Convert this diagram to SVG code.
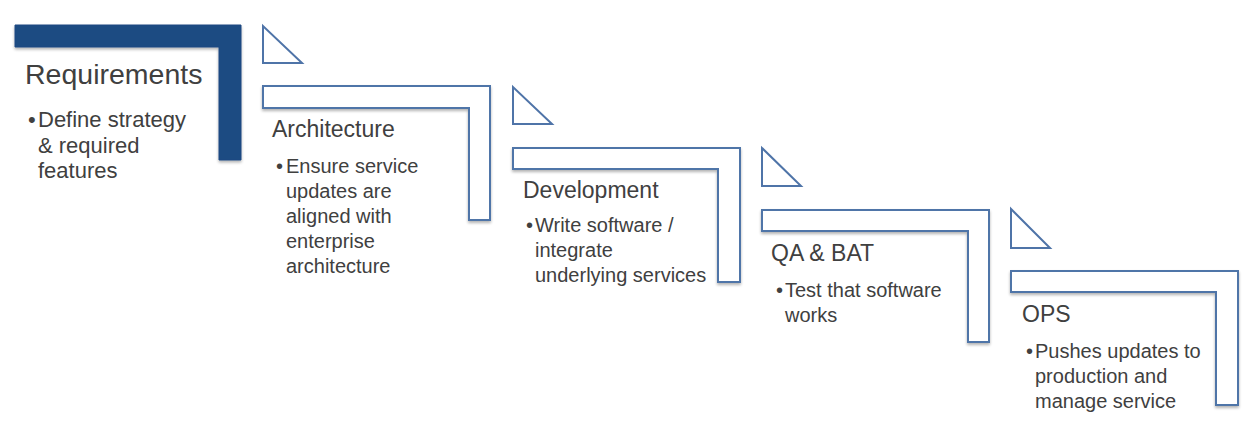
<svg xmlns="http://www.w3.org/2000/svg" width="1260" height="431" viewBox="0 0 1260 431">
  <defs>
    <filter id="sh" x="-5%" y="-5%" width="110%" height="115%">
      <feGaussianBlur in="SourceAlpha" stdDeviation="1.5"/>
      <feOffset dx="0" dy="2" result="b"/>
      <feComponentTransfer><feFuncA type="linear" slope="0.3"/></feComponentTransfer>
      <feMerge><feMergeNode/><feMergeNode in="SourceGraphic"/></feMerge>
    </filter>
  </defs>
  <style>
    .step{fill:#ffffff;stroke:#4f74a8;stroke-width:2;stroke-linejoin:miter}
    .solid{fill:#1f4b82;stroke:#1f4b82;stroke-width:1}
    .tri{fill:#ffffff;stroke:#4f74a8;stroke-width:2;stroke-linejoin:miter}
    text{font-family:"Liberation Sans",Arial,sans-serif;fill:#404040}
    .t{font-size:23px}
    .t0{font-size:28.5px}
    .b{font-size:20px}
    .b0{font-size:22px}
  </style>
  <rect width="1260" height="431" fill="#ffffff"/>

  <g id="connectors">
    <polygon class="tri" points="263,26 263,63 302,63"/>
    <polygon class="tri" points="513,87 513,124 552,124"/>
    <polygon class="tri" points="762,148 762,186 801,186"/>
    <polygon class="tri" points="1011,209 1011,248 1050,248"/>
  </g>

  <g id="requirements">
    <polygon class="solid" filter="url(#sh)" points="15,25 241,25 241,160 219,160 219,47 15,47"/>
    <text class="t0" x="25" y="84">Requirements</text>
    <text class="b0" x="28" y="127">•</text>
    <text class="b0" x="38" y="127">Define strategy</text>
    <text class="b0" x="38" y="153">&amp; required</text>
    <text class="b0" x="38" y="178">features</text>
  </g>

  <g id="architecture">
    <polygon class="step" filter="url(#sh)" points="263,86 490,86 490,220 469,220 469,108 263,108"/>
    <text class="t" x="272" y="137">Architecture</text>
    <text class="b" x="276" y="173">•</text>
    <text class="b" x="286" y="173">Ensure service</text>
    <text class="b" x="286" y="198">updates are</text>
    <text class="b" x="286" y="223">aligned with</text>
    <text class="b" x="286" y="248">enterprise</text>
    <text class="b" x="286" y="273">architecture</text>
  </g>

  <g id="development">
    <polygon class="step" filter="url(#sh)" points="513,148 740,148 740,282 718,282 718,169 513,169"/>
    <text class="t" x="523" y="198">Development</text>
    <text class="b" x="526" y="232">•</text>
    <text class="b" x="535" y="232">Write software /</text>
    <text class="b" x="535" y="257">integrate</text>
    <text class="b" x="535" y="282">underlying services</text>
  </g>

  <g id="qa-bat">
    <polygon class="step" filter="url(#sh)" points="762,210 989,210 989,342 968,342 968,231 762,231"/>
    <text class="t" x="771" y="261">QA &amp; BAT</text>
    <text class="b" x="776" y="297">•</text>
    <text class="b" x="785" y="297">Test that software</text>
    <text class="b" x="785" y="322">works</text>
  </g>

  <g id="ops">
    <polygon class="step" filter="url(#sh)" points="1011,271 1238,271 1238,405 1216,405 1216,292 1011,292"/>
    <text class="t" x="1022" y="322">OPS</text>
    <text class="b" x="1026" y="358">•</text>
    <text class="b" x="1035" y="358">Pushes updates to</text>
    <text class="b" x="1035" y="383">production and</text>
    <text class="b" x="1035" y="408">manage service</text>
  </g>
</svg>
